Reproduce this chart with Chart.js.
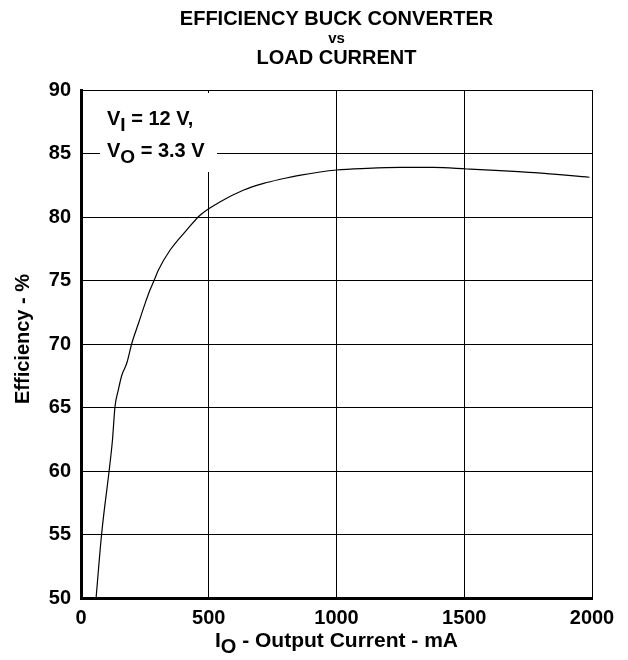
<!DOCTYPE html>
<html>
<head>
<meta charset="utf-8">
<script src="https://cdn.jsdelivr.net/npm/chart.js@4/dist/chart.umd.min.js"></script>
<style>
  html, body { margin: 0; padding: 0; background: #fff; }
  #wrap { width: 628px; height: 660px; }
</style>
</head>
<body>
<div id="wrap"><canvas id="chart" width="628" height="660"></canvas></div>
<script>
'use strict';

// data
let currentMA = [59, 81, 110, 123, 133, 146, 160, 179, 199, 225, 251, 270, 286, 303, 349, 414, 467, 545, 637, 715, 780, 860, 1000, 1120, 1250, 1380, 1510, 1640, 1775, 1990];
let efficiency = [50, 55.1, 60, 62.4, 65.06, 66.38, 67.56, 68.48, 70.06, 71.63, 73.2, 74.25, 75.0, 75.83, 77.4, 78.98, 80.16, 81.2, 82.13, 82.65, 82.97, 83.3, 83.7, 83.83, 83.9, 83.9, 83.78, 83.65, 83.49, 83.13];
let xTicks = [0, 500, 1000, 1500, 2000];
let yTicks = [50, 55, 60, 65, 70, 75, 80, 85, 90];

let titleLines = ['EFFICIENCY BUCK CONVERTER', 'vs', 'LOAD CURRENT'];
const FONT = '"Liberation Sans", Arial, sans-serif';

let points = [];
for (let i = 0; i < currentMA.length; i++) {
  points.push({ x: currentMA[i], y: efficiency[i] });
}

// text with subscript, returns end x
function subText(ctx, parts, x, y, size) {
  for (let i = 0; i < parts.length; i++) {
    let p = parts[i];
    if (p.sub) {
      ctx.font = 'bold ' + Math.round(size * 0.95) + 'px ' + FONT;
      ctx.fillText(p.t, x, y + size * 0.3);
    } else {
      ctx.font = 'bold ' + size + 'px ' + FONT;
      ctx.fillText(p.t, x, y);
    }
    x += ctx.measureText(p.t).width;
  }
  return x;
}

function partsWidth(ctx, parts, size) {
  let w = 0;
  for (let i = 0; i < parts.length; i++) {
    ctx.font = 'bold ' + (parts[i].sub ? Math.round(size * 0.95) : size) + 'px ' + FONT;
    w += ctx.measureText(parts[i].t).width;
  }
  return w;
}

const decor = {
  id: 'decor',
  beforeDatasetsDraw(chart) {
    const ctx = chart.ctx;
    // white box behind the condition note
    ctx.save();
    ctx.fillStyle = '#fff';
    ctx.fillRect(100, 93, 117, 79);
    ctx.restore();
  },
  afterDraw(chart) {
    const ctx = chart.ctx;
    const area = chart.chartArea;
    ctx.save();
    ctx.fillStyle = '#000';
    ctx.textBaseline = 'alphabetic';

    // title
    ctx.textAlign = 'center';
    let cx = (area.left + area.right) / 2;
    ctx.font = 'bold 20px ' + FONT;
    ctx.fillText(titleLines[0], cx, 25);
    ctx.font = 'bold 15px ' + FONT;
    ctx.fillText(titleLines[1], cx, 43);
    ctx.font = 'bold 20px ' + FONT;
    ctx.fillText(titleLines[2], cx, 64);

    // condition note
    ctx.textAlign = 'left';
    subText(ctx, [{ t: 'V' }, { t: 'I', sub: true }, { t: ' = 12 V,' }], 107, 125, 20);
    subText(ctx, [{ t: 'V' }, { t: 'O', sub: true }, { t: ' = 3.3 V' }], 107, 157, 20);

    // x axis title
    let xParts = [{ t: 'I' }, { t: 'O', sub: true }, { t: ' - Output Current - mA' }];
    let w = partsWidth(ctx, xParts, 21);
    subText(ctx, xParts, cx - w / 2, 647, 21);

    // y axis title
    ctx.translate(29, 339);
    ctx.rotate(-Math.PI / 2);
    ctx.textAlign = 'center';
    ctx.font = 'bold 20px ' + FONT;
    ctx.fillText('Efficiency - %', 0, 0);
    ctx.restore();
  }
};

const ctx = document.getElementById('chart').getContext('2d');
const myChart = new Chart(ctx, { //eslint-disable-line
  type: 'line',
  data: {
    datasets: [{
      data: points,
      borderColor: '#000',
      borderWidth: 1.2,
      pointRadius: 0,
      fill: false,
      cubicInterpolationMode: 'monotone'
    }]
  },
  options: {
    responsive: false,
    animation: false,
    layout: { padding: { top: 90, right: 36, left: 0, bottom: 0 } },
    plugins: {
      legend: { display: false },
      tooltip: { enabled: false }
    },
    scales: {
      x: {
        type: 'linear',
        min: 0,
        max: 2000,
        afterFit(scale) { scale.height = 62; },
        afterBuildTicks(scale) { scale.ticks = xTicks.map(v => ({ value: v })); },
        grid: { color: '#000', lineWidth: 1, drawTicks: false },
        border: { color: '#000', width: 3 },
        ticks: {
          color: '#000',
          padding: 8,
          maxRotation: 0,
          callback: v => String(v),
          font: { family: FONT, size: 20, weight: 'bold' }
        }
      },
      y: {
        min: 50,
        max: 90,
        afterFit(scale) { scale.width = 81; },
        afterBuildTicks(scale) { scale.ticks = yTicks.map(v => ({ value: v })); },
        grid: { color: '#000', lineWidth: 1, drawTicks: false },
        border: { color: '#000', width: 3 },
        ticks: {
          color: '#000',
          padding: 10,
          font: { family: FONT, size: 20, weight: 'bold' }
        }
      }
    }
  },
  plugins: [decor]
});
</script>
</body>
</html>
